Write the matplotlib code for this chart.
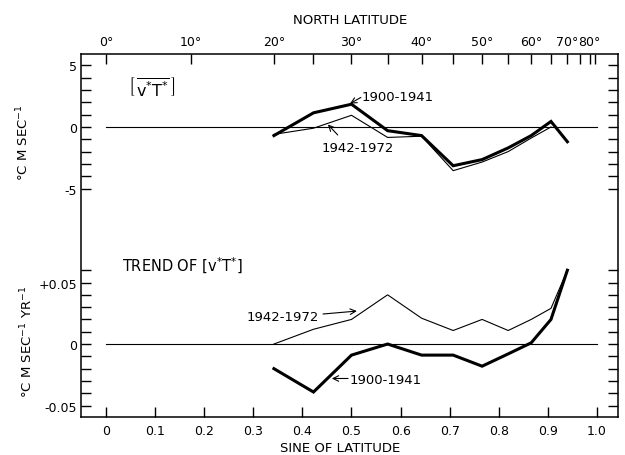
import numpy as np
import matplotlib
matplotlib.use("Agg")
import matplotlib.pyplot as plt
from matplotlib.ticker import FixedLocator, FixedFormatter, NullFormatter

# latitudes (deg N) of the plotted points
LATITUDES = [20, 25, 30, 35, 40, 45, 50, 55, 60, 65, 70]
LATITUDES_THIN_TOP = [20, 25, 30, 35, 40, 45, 50, 55, 60, 65]

# [v*T*]  (deg C m/s)
FLUX_1900_1941 = [-0.7, 1.15, 1.85, -0.3, -0.7, -3.15, -2.65, -1.7, -0.7, 0.45, -1.2]
FLUX_1942_1972 = [-0.6, -0.1, 0.95, -0.85, -0.75, -3.55, -2.85, -2.0, -0.9, 0.0]

# trend of [v*T*]  (deg C m/s per yr)
TREND_1900_1941 = [-0.020, -0.039, -0.009, 0.0, -0.009, -0.009, -0.018, -0.008, 0.001, 0.020, 0.060]
TREND_1942_1972 = [0.0, 0.012, 0.020, 0.040, 0.021, 0.011, 0.020, 0.011, 0.020, 0.029, 0.060]

TOP_LABEL_LATS = [0, 10, 20, 30, 40, 50, 60, 70, 80]
TOP_MINOR_LATS = [25, 35, 45, 55, 65, 75, 85]
SINE_TICKS = [0.0, 0.1, 0.2, 0.3, 0.4, 0.5, 0.6, 0.7, 0.8, 0.9, 1.0]
SINE_LABELS = ["0", "0.1", "0.2", "0.3", "0.4", "0.5", "0.6", "0.7", "0.8", "0.9", "1.0"]
FLUX_TICKS = [-5, 0, 5]
FLUX_LABELS = ["-5", "0", "5"]
TREND_TICKS = [-0.05, 0.0, 0.05]
TREND_LABELS = ["-0.05", "0", "+0.05"]


def sine(lats):
    return np.sin(np.radians(np.asarray(lats, dtype=float)))


plt.rcParams["font.family"] = "DejaVu Sans"
plt.rcParams["mathtext.fontset"] = "dejavusans"

W, H = 625, 456
fig = plt.figure(figsize=(W / 100, H / 100), dpi=100)


def frac(x0, y0, x1, y1):
    return [x0 / W, 1 - y1 / H, (x1 - x0) / W, (y1 - y0) / H]


# one frame round both panels so the side lines run unbroken
frame = fig.add_axes(frac(81, 55, 618, 418))
frame.set_xticks([])
frame.set_yticks([])
for sp in frame.spines.values():
    sp.set_linewidth(1.1)

ax1 = fig.add_axes(frac(81, 55, 618, 230))
ax2 = fig.add_axes(frac(81, 230, 618, 418))

xlim = (-0.0509, 1.0428)
for ax in (ax1, ax2):
    ax.set_xlim(*xlim)
    ax.patch.set_visible(False)
    for sp in ax.spines.values():
        sp.set_visible(False)
ax1.set_ylim(-8.29, 5.93)
ax2.set_ylim(-0.0593, 0.0935)

tick_kw = dict(direction="in", length=7, width=1.0, labelsize=9)

# upper panel: latitude ticks on top
ax1.xaxis.set_major_locator(FixedLocator(sine(TOP_LABEL_LATS)))
ax1.xaxis.set_major_formatter(FixedFormatter([f"{d}°" for d in TOP_LABEL_LATS]))
ax1.xaxis.set_minor_locator(FixedLocator(sine(TOP_MINOR_LATS)))
ax1.tick_params(axis="x", which="both", top=True, labeltop=True,
                bottom=False, labelbottom=False, pad=4, **tick_kw)
ax1.yaxis.set_major_locator(FixedLocator(FLUX_TICKS))
ax1.yaxis.set_major_formatter(FixedFormatter(FLUX_LABELS))
ax1.yaxis.set_minor_locator(FixedLocator(np.arange(-5, 6)))
ax1.tick_params(axis="y", which="both", left=True, right=True, pad=3, **tick_kw)

# lower panel: sine ticks at bottom
ax2.xaxis.set_major_locator(FixedLocator(SINE_TICKS))
ax2.xaxis.set_major_formatter(FixedFormatter(SINE_LABELS))
ax2.tick_params(axis="x", which="both", bottom=True, top=False, pad=5, **tick_kw)
ax2.yaxis.set_major_locator(FixedLocator(TREND_TICKS))
ax2.yaxis.set_major_formatter(FixedFormatter(TREND_LABELS))
ax2.yaxis.set_minor_locator(FixedLocator(np.arange(-5, 7) / 100))
ax2.yaxis.set_minor_formatter(NullFormatter())
ax2.tick_params(axis="y", which="both", left=True, right=True, pad=3, **tick_kw)

# zero lines
for ax in (ax1, ax2):
    ax.plot([0, 1.0], [0, 0], color="black", lw=0.8)

# data
ax1.plot(sine(LATITUDES), FLUX_1900_1941, color="black", lw=2.2, solid_joinstyle="miter")
ax1.plot(sine(LATITUDES_THIN_TOP), FLUX_1942_1972, color="black", lw=0.8)
ax2.plot(sine(LATITUDES), TREND_1900_1941, color="black", lw=2.2, solid_joinstyle="miter")
ax2.plot(sine(LATITUDES), TREND_1942_1972, color="black", lw=0.8)

arrow = dict(arrowstyle="->", color="black", lw=0.8, shrinkA=0, shrinkB=0)

ax1.text(0.094, 3.25, r"$\left[\,\overline{\mathrm{v^{*}T^{*}}}\,\right]$", fontsize=11.5,
         ha="center", va="center")
ax1.text(0.52, 2.45, "1900-1941", fontsize=9.5, ha="left", va="center")
ax1.annotate("", xy=(0.497, 1.9), xytext=(0.519, 2.4), arrowprops=arrow)
ax1.text(0.513, -1.7, "1942-1972", fontsize=9.5, ha="center", va="center")
ax1.annotate("", xy=(0.452, 0.2), xytext=(0.472, -0.65), arrowprops=arrow)

ax2.text(0.155, 0.0642, r"TREND OF $\left[\mathrm{v^{*}T^{*}}\right]$", fontsize=10.5,
         ha="center", va="center")
ax2.text(0.36, 0.022, "1942-1972", fontsize=9.5, ha="center", va="center")
ax2.annotate("", xy=(0.511, 0.0268), xytext=(0.442, 0.0244), arrowprops=arrow)
ax2.text(0.496, -0.0285, "1900-1941", fontsize=9.5, ha="left", va="center")
ax2.annotate("", xy=(0.46, -0.0280), xytext=(0.493, -0.0280), arrowprops=arrow)

fig.text(350 / W, 1 - 21 / H, "NORTH LATITUDE", fontsize=9.5, ha="center", va="center")
fig.text(340 / W, 1 - 449 / H, "SINE OF LATITUDE", fontsize=9.5, ha="center", va="center")
fig.text(23 / W, 1 - 143 / H, r"°C M SEC$^{-1}$", fontsize=9.5, rotation=90,
         ha="center", va="center")
fig.text(27 / W, 1 - 342 / H, r"°C M SEC$^{-1}$ YR$^{-1}$", fontsize=9.5, rotation=90,
         ha="center", va="center")

fig.savefig("out.png", dpi=100)
